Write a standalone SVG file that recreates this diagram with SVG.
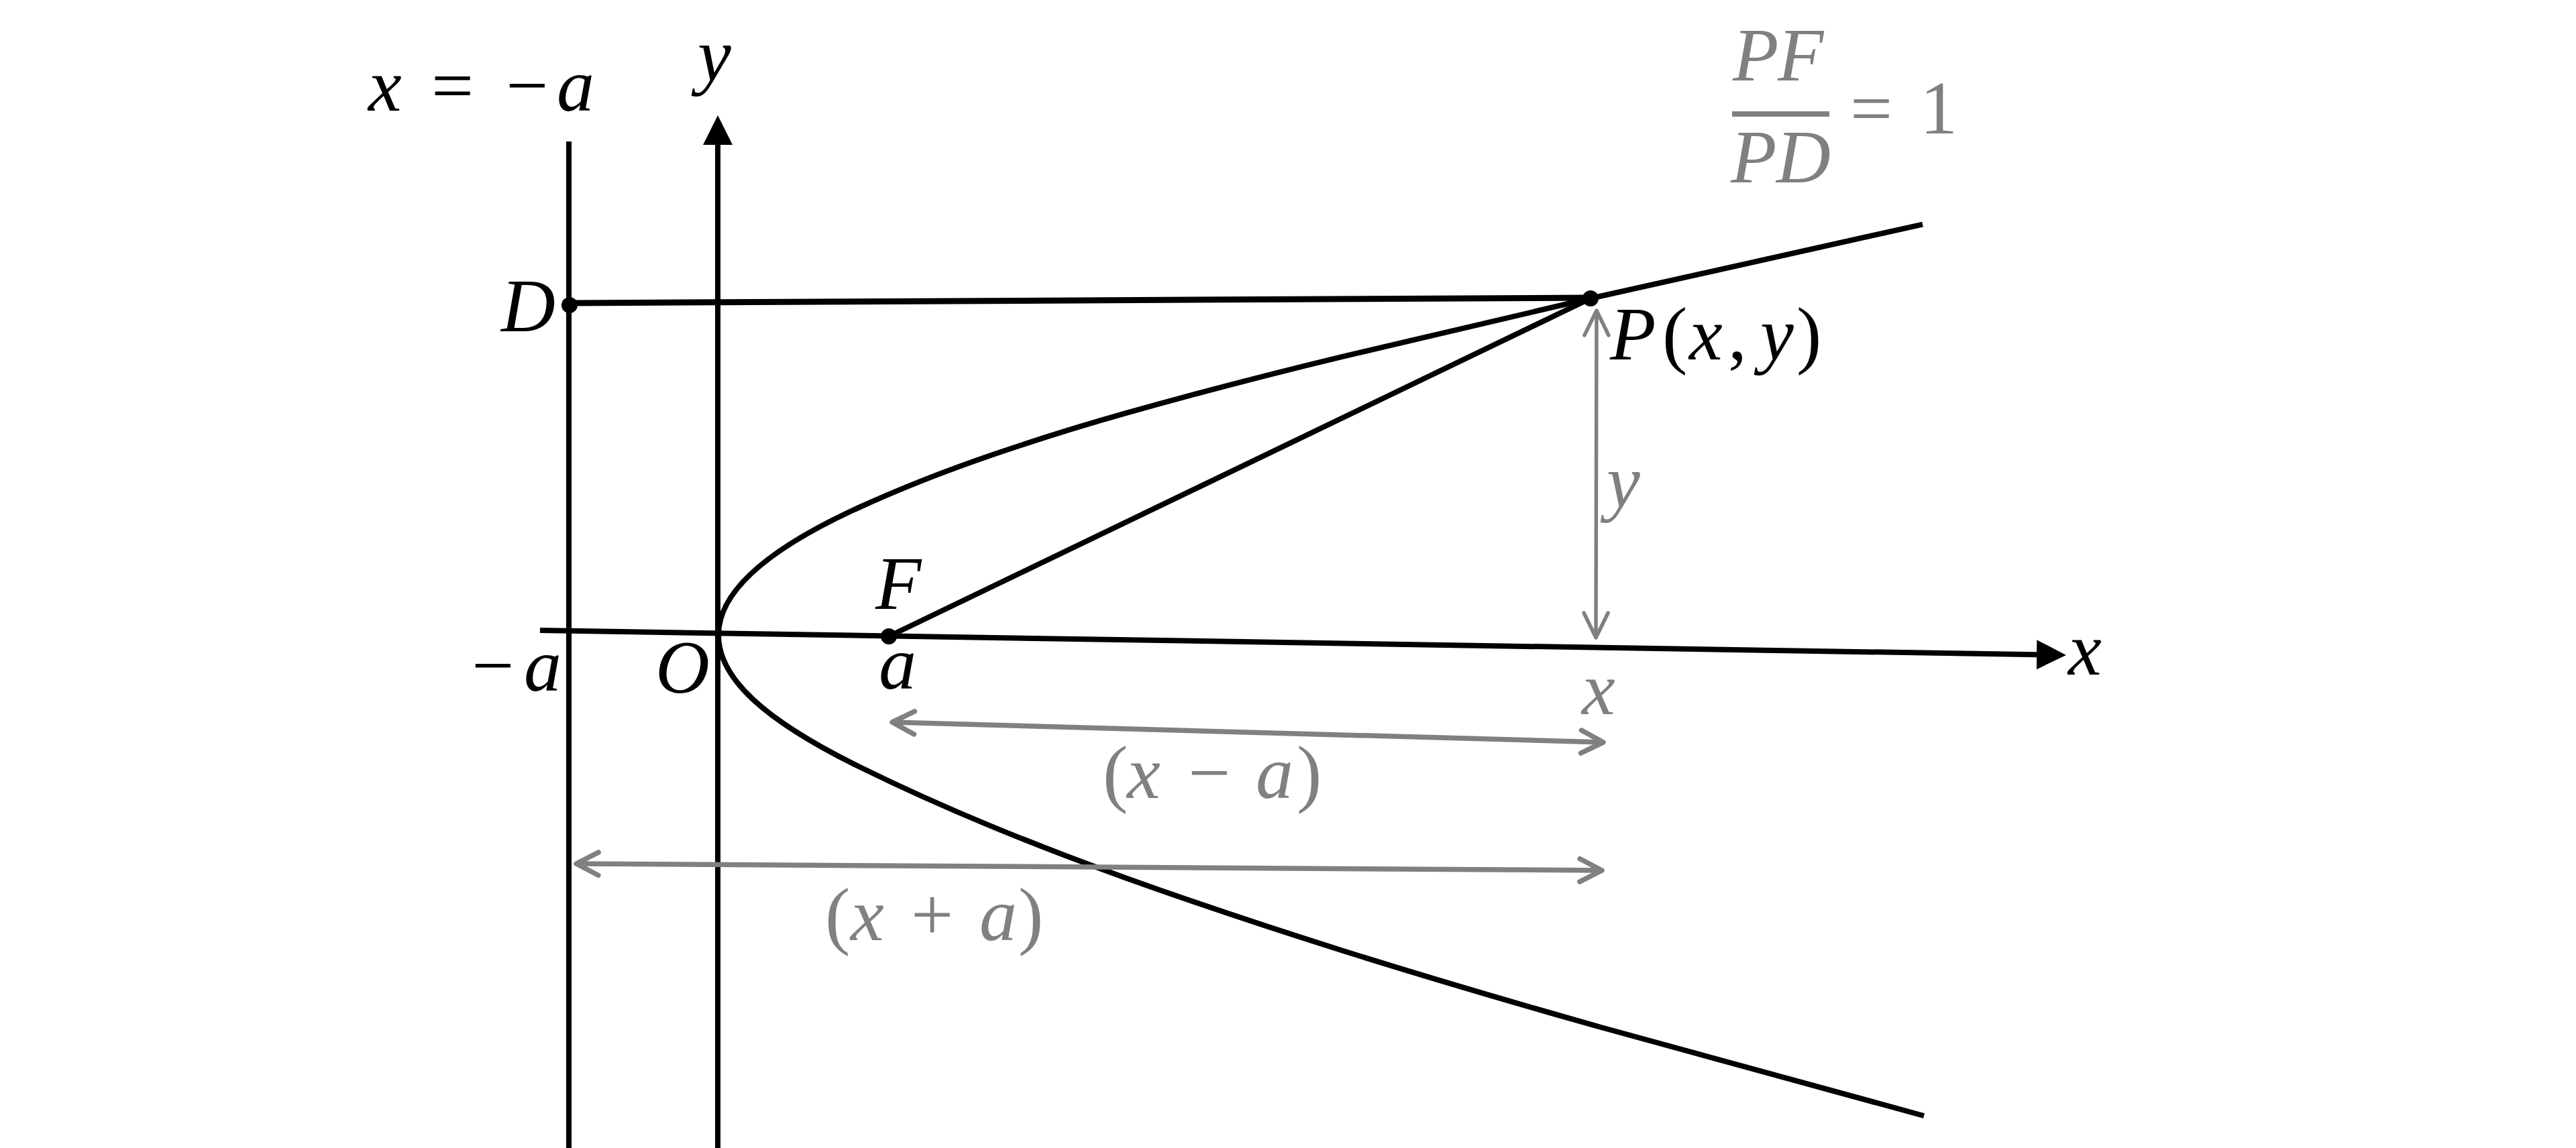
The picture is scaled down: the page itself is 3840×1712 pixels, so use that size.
<svg xmlns="http://www.w3.org/2000/svg" width="3840" height="1712" viewBox="0 0 3840 1712">
  <style>
    .blk { stroke: #000; stroke-width: 8; fill: none; }
    .gry { stroke: #808080; stroke-width: 7.5; fill: none; }
    .gryv { stroke: #808080; stroke-width: 5.5; fill: none; }
    .lbl { font-family: "Liberation Serif", "Times New Roman", serif; font-size: 112px; font-style: italic; fill: #000; }
    .glbl { font-family: "Liberation Serif", "Times New Roman", serif; font-size: 112px; font-style: italic; fill: #808080; }
    .up { font-style: normal; }
    .dot { fill: #000; }
  </style>
  <defs>
    <marker id="tri" markerUnits="userSpaceOnUse" viewBox="0 -23 45 46" refX="0" refY="0" markerWidth="45" markerHeight="46" orient="auto">
      <path d="M0,-22 L44,0 L0,22 Z" fill="#000"/>
    </marker>
    <marker id="chev" markerUnits="userSpaceOnUse" viewBox="-40 -24 46 48" refX="0" refY="0" markerWidth="46" markerHeight="48" orient="auto-start-reverse">
      <path d="M-33,-17 L0,0 L-33,17" fill="none" stroke="#808080" stroke-width="7.5" stroke-linecap="round" stroke-linejoin="round"/>
    </marker>
    <marker id="chevv" markerUnits="userSpaceOnUse" viewBox="-42 -24 48 48" refX="0" refY="0" markerWidth="48" markerHeight="48" orient="auto-start-reverse">
      <path d="M-37,-18 L0,0 L-37,18" fill="none" stroke="#808080" stroke-width="5.5" stroke-linecap="round" stroke-linejoin="round"/>
    </marker>
  </defs>

  <g id="connectors">
    <line id="directrix" class="blk" x1="848" y1="211" x2="848" y2="1712"/>
    <line id="y-axis" class="blk" x1="1070" y1="1712" x2="1070" y2="216" marker-end="url(#tri)"/>
    <line id="x-axis" class="blk" x1="805" y1="940" x2="3036" y2="976.3" marker-end="url(#tri)"/>
    <path id="parabola" class="blk" d="M2866,334.6 C2701,371.1 2536,407.7 2371,445 C2247.3,473 2123.7,502.2 2000,532.1 C1893.3,557.9 1786.7,585.6 1680,615.7 C1613.3,634.5 1546.7,655.2 1480,678 C1413.3,700.8 1346.7,726.6 1280,757 C1140.7,820.6 1071,883.7 1071,947 C1071,1012.3 1140.7,1074.3 1280,1143 C1346.7,1175.9 1413.3,1205.6 1480,1233.1 C1546.7,1260.6 1613.3,1285.9 1680,1309.9 C1786.7,1348.2 1893.3,1383.6 2000,1417.2 C2127.7,1457.4 2255.3,1494.8 2383,1531 C2544.7,1576.9 2706.3,1620.8 2868,1664"/>
    <line id="DP" class="blk" style="stroke-width:9" x1="849" y1="452" x2="2371" y2="444"/>
    <line id="PF" class="blk" x1="1325" y1="949" x2="2371" y2="445"/>
    <line id="dim-y" class="gryv" x1="2380" y1="463" x2="2379" y2="951" marker-start="url(#chevv)" marker-end="url(#chevv)"/>
    <line id="dim-x-minus-a" class="gry" x1="1330" y1="1077" x2="2390" y2="1107" marker-start="url(#chev)" marker-end="url(#chev)"/>
    <line id="dim-x-plus-a" class="gry" x1="859" y1="1288" x2="2388" y2="1298" marker-start="url(#chev)" marker-end="url(#chev)"/>
  </g>

  <g id="node-D">
    <circle class="dot" cx="849" cy="455" r="12"/>
    <text class="lbl" x="828" y="494" text-anchor="end">D</text>
  </g>
  <g id="node-P">
    <circle class="dot" cx="2371" cy="445" r="12"/>
    <text class="lbl" y="536"><tspan x="2400">P</tspan><tspan class="up" x="2478">(</tspan><tspan x="2518">x</tspan><tspan class="up" x="2576">,</tspan><tspan x="2624">y</tspan><tspan class="up" x="2678">)</tspan></text>
  </g>
  <g id="node-F">
    <circle class="dot" cx="1325" cy="949" r="12"/>
    <text class="lbl" x="1305" y="908">F</text>
    <text class="lbl" x="1310" y="1027">a</text>
  </g>
  <g id="label-directrix">
    <text class="lbl" y="165"><tspan x="549">x</tspan><tspan class="up" x="643">=</tspan><tspan class="up" x="754">−</tspan><tspan x="830">a</tspan></text>
  </g>
  <g id="label-axes">
    <text class="lbl" x="1040" y="120">y</text>
    <text class="lbl" x="3083" y="1006">x</text>
    <text class="lbl" x="1058" y="1033" text-anchor="end">O</text>
    <text class="lbl" y="1030"><tspan class="up" x="703">−</tspan><tspan x="781">a</tspan></text>
  </g>
  <g id="label-dimensions">
    <text class="glbl" x="2395" y="756">y</text>
    <text class="glbl" x="2358" y="1065">x</text>
    <text class="glbl" y="1190"><tspan class="up" x="1644">(</tspan><tspan x="1680">x</tspan><tspan class="up" x="1771">−</tspan><tspan x="1872">a</tspan><tspan class="up" x="1933">)</tspan></text>
    <text class="glbl" y="1402"><tspan class="up" x="1230">(</tspan><tspan x="1268">x</tspan><tspan class="up" x="1358">+</tspan><tspan x="1460">a</tspan><tspan class="up" x="1518">)</tspan></text>
  </g>
  <g id="label-ratio">
    <text class="glbl" y="120"><tspan x="2583">P</tspan><tspan x="2650">F</tspan></text>
    <rect x="2582" y="166" width="145" height="8" fill="#808080"/>
    <text class="glbl" y="272"><tspan x="2580">P</tspan><tspan x="2648">D</tspan></text>
    <text class="glbl" y="199"><tspan class="up" x="2758">=</tspan><tspan class="up" x="2862">1</tspan></text>
  </g>
</svg>
